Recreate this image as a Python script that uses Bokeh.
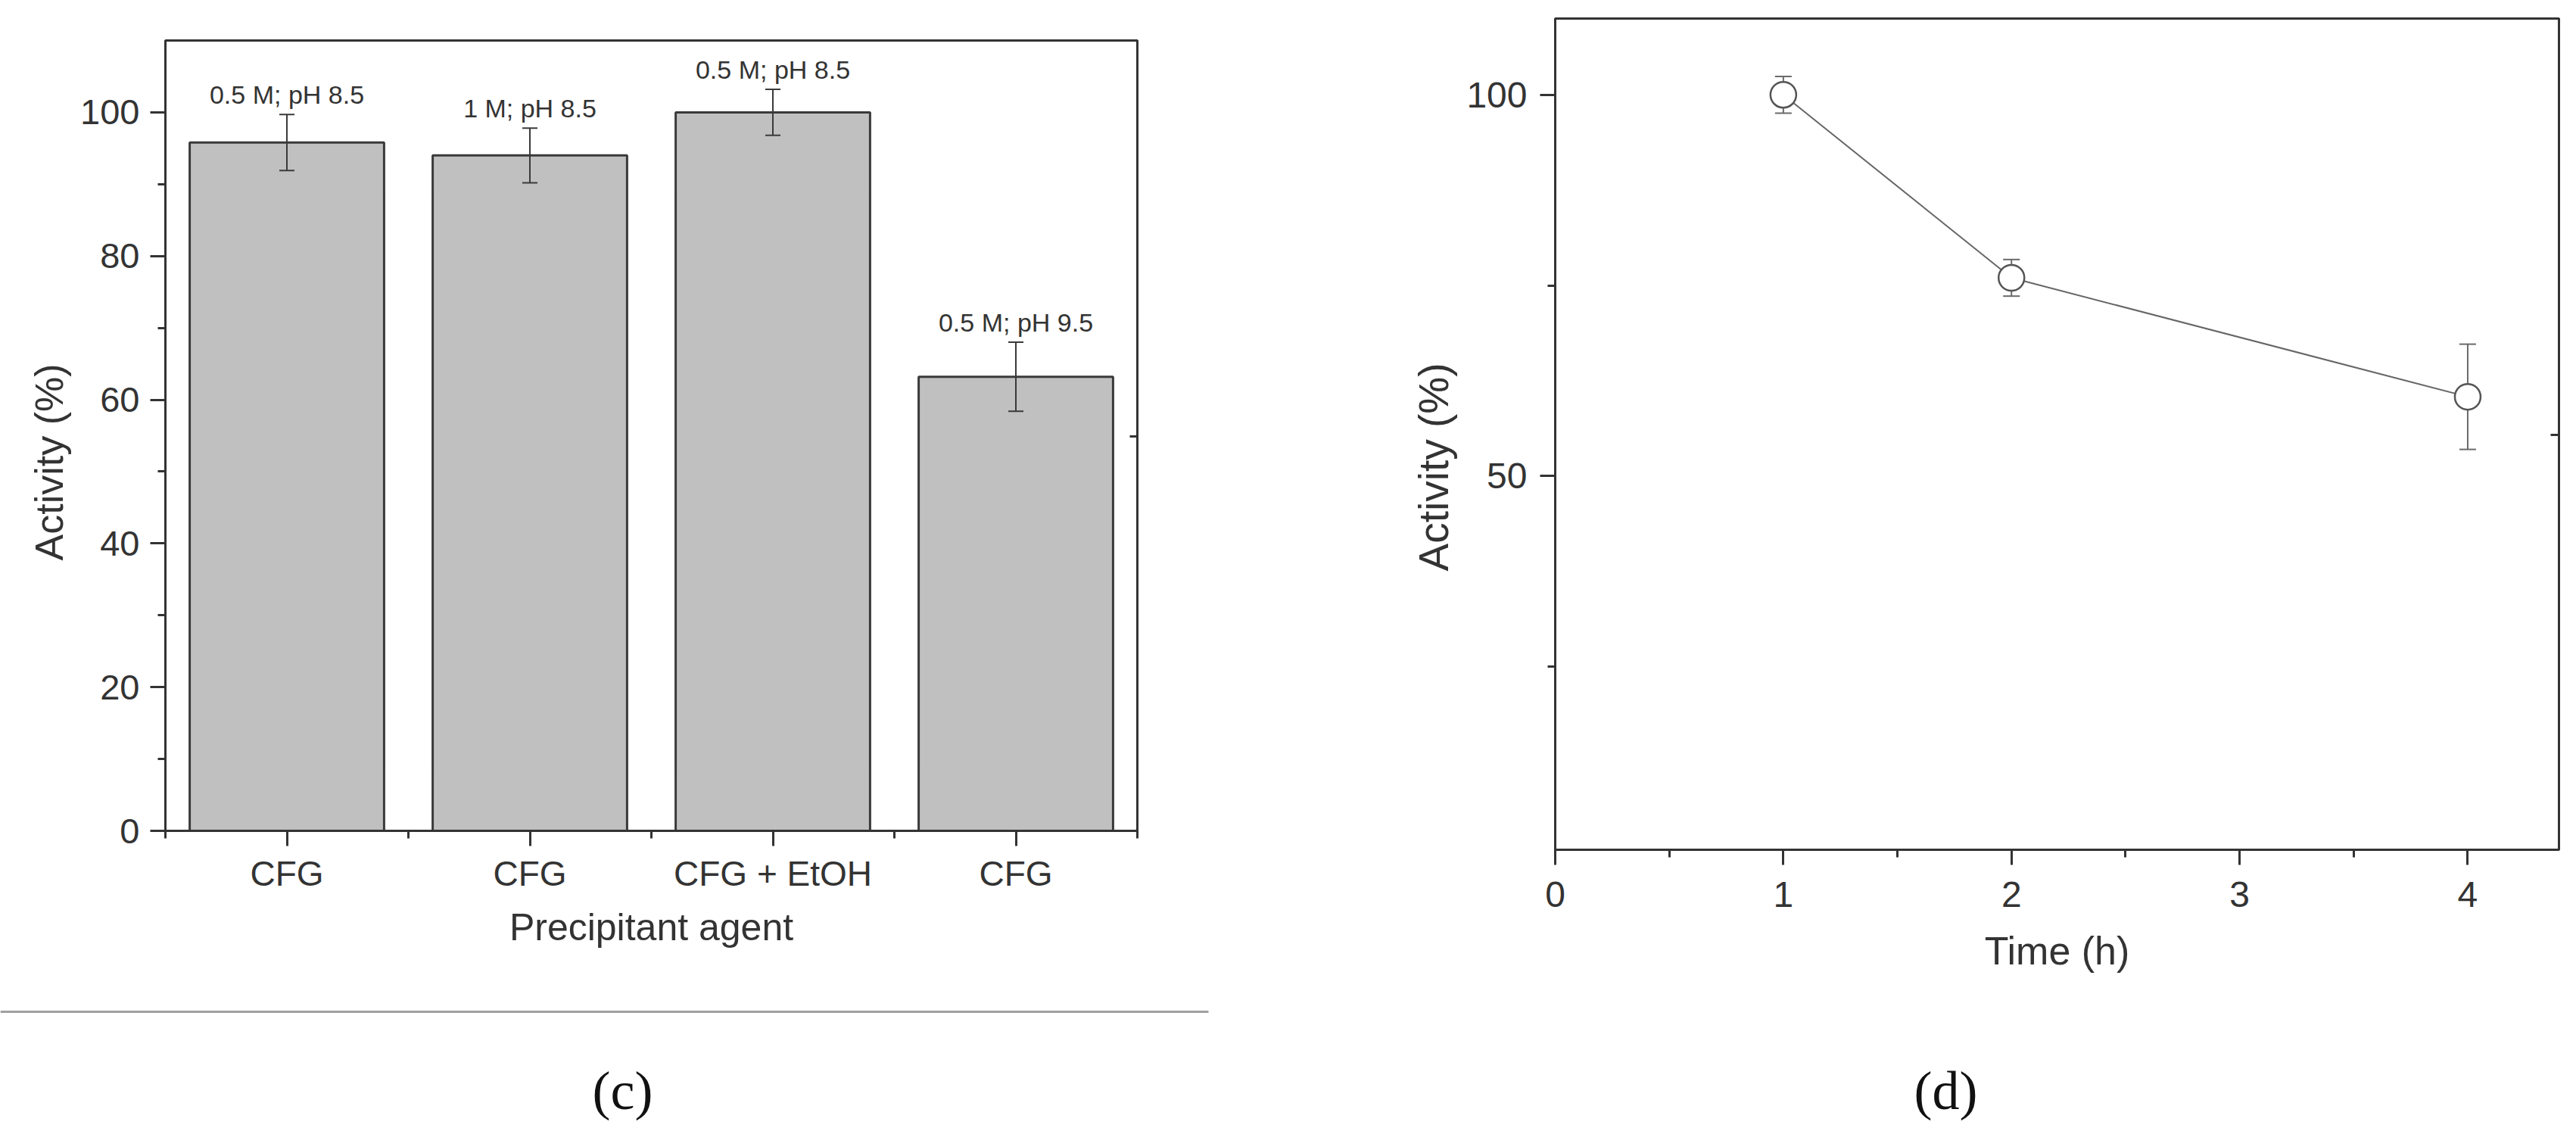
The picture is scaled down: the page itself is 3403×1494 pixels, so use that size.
from bokeh.plotting import figure
from bokeh.models import (Range1d, FixedTicker, LinearAxis, Whisker, TeeHead,
                          ColumnDataSource, Title)
from bokeh.layouts import column, row
from bokeh.embed import file_html
from bokeh.resources import INLINE
from bokeh.core.properties import value

# ---------------- data: panel (c) ----------------
categories = ["CFG", "CFG", "CFG + EtOH", "CFG"]
conditions = ["0.5 M; pH 8.5", "1 M; pH 8.5", "0.5 M; pH 8.5", "0.5 M; pH 9.5"]
activity_c = [95.8, 94.0, 100.0, 63.2]
error_c = [3.9, 3.8, 3.2, 4.8]
yticks_c = [0, 20, 40, 60, 80, 100]
yminor_c = [10, 30, 50, 70, 90]

# ---------------- data: panel (d) ----------------
time_h = [1, 2, 4]
activity_d = [100.0, 76.0, 60.4]
error_d = [2.4, 2.4, 6.9]
xticks_d = [0, 1, 2, 3, 4]
xminor_d = [0.5, 1.5, 2.5, 3.5]
yticks_d = [50, 100]
yminor_d = [25, 75]

captions = ["(c)", "(d)"]

SANS = "Liberation Sans"
TXT = "#333333"
AX = "#333333"


def style_axis(ax, size="47px", standoff=15):
    ax.axis_line_color = AX
    ax.axis_line_width = 3
    ax.major_tick_line_color = AX
    ax.major_tick_line_width = 3
    ax.minor_tick_line_color = AX
    ax.minor_tick_line_width = 3
    ax.major_tick_out = 20
    ax.major_tick_in = 0
    ax.minor_tick_out = 10
    ax.minor_tick_in = 0
    ax.major_label_text_font = SANS
    ax.major_label_text_font_size = size
    ax.major_label_text_color = TXT
    ax.major_label_standoff = standoff
    ax.axis_label_text_font = SANS
    ax.axis_label_text_font_size = "50px"
    ax.axis_label_text_font_style = "normal"
    ax.axis_label_text_color = TXT


def side_tick_axis(tick, inward):
    ax = LinearAxis(ticker=FixedTicker(ticks=[tick], minor_ticks=[]))
    ax.axis_line_color = AX
    ax.axis_line_width = 3
    ax.major_tick_line_color = AX
    ax.major_tick_line_width = 3
    ax.major_tick_in = inward
    ax.major_tick_out = 0
    ax.minor_tick_line_color = None
    ax.major_label_overrides = {tick: ""}
    ax.major_label_standoff = 0
    return ax


ROW_H = 1322

# ================= panel (c): bar chart =================
xs = [i + 1 for i in range(len(categories))]
src_c = ColumnDataSource(dict(
    x=xs, top=activity_c,
    upper=[v + e for v, e in zip(activity_c, error_c)],
    lower=[v - e for v, e in zip(activity_c, error_c)],
    cond=conditions,
))

p1 = figure(frame_width=1284, frame_height=1044,
            min_border_left=218, min_border_right=248,
            min_border_top=53, min_border_bottom=ROW_H - 53 - 1044,
            x_range=Range1d(0.5, 4.5), y_range=Range1d(0, 110),
            output_backend="svg", toolbar_location=None)
p1.frame_align = False
p1.grid.visible = False
p1.outline_line_color = AX
p1.outline_line_width = 3
p1.background_fill_color = "white"
p1.border_fill_color = "white"

p1.vbar(x="x", top="top", bottom=0, width=0.8, source=src_c,
        fill_color="#c0c0c0", line_color="#3a3a3a", line_width=3)
w1 = Whisker(source=src_c, base="x", upper="upper", lower="lower",
             line_color="#3a3a3a", line_width=2, level="overlay",
             upper_head=TeeHead(size=20, line_color="#3a3a3a", line_width=2),
             lower_head=TeeHead(size=20, line_color="#3a3a3a", line_width=2))
p1.add_layout(w1)
p1.text(x="x", y="upper", text="cond", source=src_c,
        text_align="center", text_baseline="alphabetic", y_offset=-26,
        text_font=value(SANS), text_font_size="34px", text_color=TXT)

xa = p1.xaxis[0]
xa.ticker = FixedTicker(ticks=xs, minor_ticks=[0.5, 1.5, 2.5, 3.5, 4.5])
xa.major_label_overrides = {x: c for x, c in zip(xs, categories)}
style_axis(xa, "46px", 10)
xa.axis_label = "Precipitant agent"
xa.axis_label_standoff = 14

ya = p1.yaxis[0]
ya.ticker = FixedTicker(ticks=yticks_c, minor_ticks=yminor_c)
style_axis(ya, "47px", 14)
p1.add_layout(Title(text="Activity (%)", align="left", offset=357,
                    text_font=SANS, text_font_size="52px",
                    text_font_style="normal", text_color=TXT, standoff=20), "left")
p1.add_layout(side_tick_axis(54.9, 10), "right")

# ================= panel (d): line chart =================
src_d = ColumnDataSource(dict(
    x=time_h, y=activity_d,
    upper=[v + e for v, e in zip(activity_d, error_d)],
    lower=[v - e for v, e in zip(activity_d, error_d)],
))

p2 = figure(frame_width=1326, frame_height=1098,
            min_border_left=304, min_border_right=15,
            min_border_top=24, min_border_bottom=ROW_H - 24 - 1098,
            x_range=Range1d(0, 4.4), y_range=Range1d(1, 110),
            output_backend="svg", toolbar_location=None)
p2.frame_align = False
p2.grid.visible = False
p2.outline_line_color = AX
p2.outline_line_width = 3
p2.background_fill_color = "white"
p2.border_fill_color = "white"

w2 = Whisker(source=src_d, base="x", upper="upper", lower="lower",
             line_color="#6a6a6a", line_width=2, level="underlay",
             upper_head=TeeHead(size=22, line_color="#6a6a6a", line_width=2),
             lower_head=TeeHead(size=22, line_color="#6a6a6a", line_width=2))
p2.add_layout(w2)
p2.line(x="x", y="y", source=src_d, line_color="#666666", line_width=2)
p2.scatter(x="x", y="y", source=src_d, marker="circle", size=34,
           fill_color="white", line_color="#555555", line_width=2.5)

xb = p2.xaxis[0]
xb.ticker = FixedTicker(ticks=xticks_d, minor_ticks=xminor_d)
style_axis(xb, "48px", 22)
xb.axis_label = "Time (h)"
xb.axis_label_text_font_size = "52px"
xb.axis_label_standoff = 26

yb = p2.yaxis[0]
yb.ticker = FixedTicker(ticks=yticks_d, minor_ticks=yminor_d)
style_axis(yb, "48px", 17)
p2.add_layout(Title(text="Activity (%)", align="left", offset=368,
                    text_font=SANS, text_font_size="55px",
                    text_font_style="normal", text_color=TXT, standoff=20), "left")
p2.add_layout(side_tick_axis(55.4, 11), "right")

# ================= captions & separator =================
PAGE_W = 3395
CAP_H = 1486 - ROW_H
p3 = figure(width=PAGE_W, height=CAP_H, x_range=Range1d(0, PAGE_W),
            y_range=Range1d(ROW_H + CAP_H, ROW_H), min_border=0,
            x_axis_location=None, y_axis_location=None,
            output_backend="svg", toolbar_location=None)
p3.frame_align = False
p3.grid.visible = False
p3.outline_line_color = None
p3.segment(x0=[0], y0=[1336], x1=[1596], y1=[1336],
           line_color="#a0a0a0", line_width=3)
p3.text(x=[822, 2570], y=[1440, 1440], text=captions,
        text_align="center", text_baseline="middle",
        text_font=value("Liberation Serif"), text_font_size="72px",
        text_color="#111111")

layout = column(row(p1, p2), p3)
open("out.html", "w").write(file_html(layout, INLINE))
